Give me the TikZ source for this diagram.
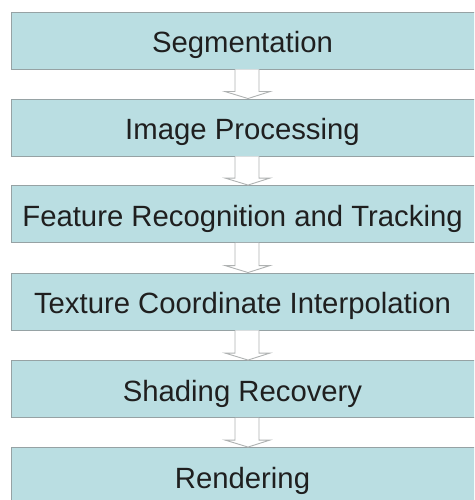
\documentclass[tikz,border=0pt]{standalone}
\usepackage{fontspec}
\setmainfont{Liberation Sans}
\usetikzlibrary{calc}
\definecolor{stagefill}{RGB}{186,222,226}
\definecolor{stageedge}{RGB}{150,162,164}
\definecolor{arrowedge}{RGB}{175,178,178}
\tikzset{
  stagebox/.style={draw=stageedge, fill=stagefill, line width=0.9pt,
    minimum width=469pt, minimum height=57pt, inner sep=0pt,
    text height=24pt, text depth=0pt,
    execute at begin node={\hspace*{-6pt}},
    font=\fontsize{29.3}{33}\selectfont, text=black!88},
  flowarr/.style={draw=arrowedge, fill=white, line width=0.9pt, line join=miter},
}
% hollow block arrow from one stage to the next
\newcommand{\flowstep}[2]{%
  \draw[flowarr] ($(#1.south)+(-10.5,0)$) -- ($(#2.north)+(-10.5,-7)$)
    -- ($(#2.north)+(-20.5,-7)$) -- ($(#2.north)+(2.5,0)$)
    -- ($(#2.north)+(24.5,-7)$) -- ($(#2.north)+(13.5,-7)$)
    -- ($(#1.south)+(13.5,0)$);
}
\begin{document}
\begin{tikzpicture}[x=1pt,y=-1pt]
    \useasboundingbox (0,0) rectangle (474,500);
    \clip (0,0) rectangle (474,500);
    % pipeline stages
    \node[stagebox] (seg) at (245.5,40.5) {Segmentation};
    \node[stagebox] (proc) at (245.5,127.5) {Image Processing};
    \node[stagebox] (feat) at (245.5,214) {Feature Recognition and Tracking};
    \node[stagebox] (tex) at (245.5,301.5) {Texture Coordinate Interpolation};
    \node[stagebox] (shade) at (245.5,389) {Shading Recovery};
    \node[stagebox] (rend) at (245.5,476) {Rendering};
    % arrows between stages
    \flowstep{seg}{proc}
    \flowstep{proc}{feat}
    \flowstep{feat}{tex}
    \flowstep{tex}{shade}
    \flowstep{shade}{rend}
  \end{tikzpicture}
\end{document}
